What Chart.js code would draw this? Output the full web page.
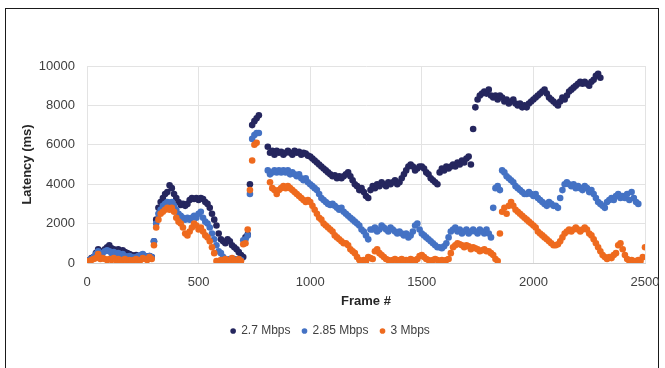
<!DOCTYPE html>
<html><head><meta charset="utf-8">
<script src="https://cdn.jsdelivr.net/npm/chart.js@4.4.1/dist/chart.umd.min.js"></script>
<style>
html,body{margin:0;padding:0;background:#fff;}
#wrap{position:relative;width:665px;height:368px;overflow:hidden;}
#frame{position:absolute;left:5px;top:8px;width:654px;height:400px;border:1.5px solid #1a1a1a;box-sizing:border-box;}
canvas{position:absolute;left:0;top:0;}
</style></head><body>
<div id="wrap"><div id="frame"></div><canvas id="c" width="665" height="368"></canvas></div>
<script>
// Frame numbers (sampled every 10 frames)
const FRAMES = [
0,10,20,30,40,50,60,70,80,90,
100,110,120,130,140,150,160,170,180,190,
200,210,220,230,240,250,260,270,280,290,
300,310,320,330,340,350,360,370,380,390,
400,410,420,430,440,450,460,470,480,490,
500,510,520,530,540,550,560,570,580,590,
600,610,620,630,640,650,660,670,680,690,
700,710,720,730,740,750,760,770,780,790,
800,810,820,830,840,850,860,870,880,890,
900,910,920,930,940,950,960,970,980,990,
1000,1010,1020,1030,1040,1050,1060,1070,1080,1090,
1100,1110,1120,1130,1140,1150,1160,1170,1180,1190,
1200,1210,1220,1230,1240,1250,1260,1270,1280,1290,
1300,1310,1320,1330,1340,1350,1360,1370,1380,1390,
1400,1410,1420,1430,1440,1450,1460,1470,1480,1490,
1500,1510,1520,1530,1540,1550,1560,1570,1580,1590,
1600,1610,1620,1630,1640,1650,1660,1670,1680,1690,
1700,1710,1720,1730,1740,1750,1760,1770,1780,1790,
1800,1810,1820,1830,1840,1850,1860,1870,1880,1890,
1900,1910,1920,1930,1940,1950,1960,1970,1980,1990,
2000,2010,2020,2030,2040,2050,2060,2070,2080,2090,
2100,2110,2120,2130,2140,2150,2160,2170,2180,2190,
2200,2210,2220,2230,2240,2250,2260,2270,2280,2290,
2300,2310,2320,2330,2340,2350,2360,2370,2380,2390,
2400,2410,2420,2430,2440,2450,2460,2470,2480,2490,
2500];

const N = null;
// Latency (ms) – 2.7 Mbps
const LAT_27 = [
100,150,250,300,500,700,550,600,700,800,
900,750,700,650,700,600,650,550,500,450,
400,350,400,300,350,300,350,300,350,300,
1100,2200,2800,3100,3300,3500,3600,3950,3800,3500,
3300,3100,2950,3000,2900,3000,3200,3300,3250,3300,
3200,3300,3250,3100,3000,2800,2500,2200,1900,1500,
1200,1100,1000,1200,1100,900,800,700,550,400,
300,1300,1450,4000,7000,7200,7350,7500,N,N,
N,5900,5600,5700,5500,5700,5600,5650,5500,5600,
5700,5600,5500,5700,5600,5650,5500,5600,5550,5450,
5400,5300,5200,5100,5000,4900,4800,4700,4600,4500,
4400,4450,4300,4400,4300,4400,4500,4600,4400,4200,
4000,3900,3700,3800,3600,3400,3300,3700,3900,3800,
4000,3900,4100,4000,3900,4100,4000,4100,4200,4000,
4100,4300,4500,4700,4900,5000,4900,4700,4800,4900,
4900,4800,4600,4500,4300,4200,4100,4000,4600,4800,
4700,4900,4800,4900,5000,4900,5100,5000,5200,5100,
5300,5400,5000,6800,7900,8300,8500,8600,8700,8600,
8800,8500,8400,8500,8300,8500,8400,8200,8300,8100,
8200,8300,8100,8000,8100,7900,8000,7900,8100,8200,
8300,8400,8500,8600,8700,8800,8600,8400,8300,8200,
8100,8000,8200,8400,8300,8500,8700,8800,8900,9000,
9100,9200,9100,9200,9100,9000,9200,9300,9500,9600,
9400,N,N,N,N,N,N,N,N,N,
N,N,N,N,N,N,N,N,N,N,
N];

// Latency (ms) – 2.85 Mbps
const LAT_285 = [
100,150,200,300,450,600,450,500,600,650,
600,500,550,450,500,400,450,350,300,350,
300,250,300,350,400,450,350,300,350,300,
1100,2000,2500,2700,2900,3000,3100,3050,3100,2900,
2700,2500,2400,2300,2200,2300,2200,2300,2400,2300,
2500,2600,2300,2100,2000,1800,1500,1200,900,600,
500,300,200,150,200,150,200,150,200,150,
1150,1200,1400,3500,6300,6500,6600,6600,N,N,
N,4700,4500,4600,4700,4600,4700,4600,4700,4600,
4700,4500,4600,4500,4400,4500,4300,4200,4300,4100,
4000,3900,3800,3700,3500,3300,3200,3100,3000,2950,
3000,2900,2800,2700,2800,2600,2500,2400,2300,2200,
2100,2000,1900,1700,1600,1400,1200,1700,1700,1800,
1600,1700,1900,1800,1700,1600,1800,1700,1600,1500,
1600,1500,1400,1500,1300,1400,1600,1900,2000,1700,
1500,1400,1300,1200,1100,1000,900,800,800,750,
850,1000,1300,1600,1700,1800,1600,1700,1500,1600,
1700,1500,1600,1700,1600,1500,1700,1600,1500,1700,
1500,1300,2800,3800,3900,3700,4700,4600,4400,4300,
4200,4100,3900,3800,3700,3600,3500,3500,3600,3500,
3400,3500,3300,3200,3100,3000,2900,3100,3000,2900,
2900,2800,3300,3700,4000,4100,4000,3900,4000,3800,
3900,3800,3700,3900,3800,3600,3700,3500,3300,3100,
3000,2900,2800,3100,3200,3300,3200,3400,3500,3300,
3400,3300,3500,3200,3600,3300,3100,3000,N,N,
N];

// Latency (ms) – 3 Mbps
const LAT_3 = [
100,100,150,200,250,450,200,250,200,150,
200,150,250,150,200,100,150,200,100,150,
100,150,200,100,150,250,200,150,300,200,
900,1800,2200,2500,2600,2700,2800,2700,2800,2600,
2300,2100,2000,1800,1500,1400,1600,1800,2000,1900,
1700,1800,1600,1400,1300,1100,800,500,100,100,
150,100,200,100,150,250,100,150,200,100,
950,1000,1700,3700,5200,6000,6100,N,N,N,
N,N,4100,3800,3700,3500,3700,3800,3900,3800,
3900,3800,3700,3600,3500,3400,3300,3200,3100,3200,
3100,2900,2700,2500,2300,2200,2000,1900,1800,1700,
1600,1400,1300,1200,1100,1000,1000,900,700,600,
500,300,150,100,150,100,300,250,200,600,
700,500,400,300,200,150,100,150,200,100,
150,200,100,150,100,200,150,100,200,350,
400,300,200,150,100,150,200,150,100,150,
100,150,200,500,800,900,1000,950,900,800,
900,850,700,800,750,700,600,650,700,600,
600,500,400,200,100,1500,2600,2800,2500,2900,
3100,2900,2700,2600,2500,2400,2300,2200,2100,2000,
1900,1800,1600,1500,1400,1300,1200,1100,1000,900,
900,950,1100,1300,1500,1600,1700,1600,1700,1800,
1700,1600,1700,1800,1700,1500,1400,1200,1000,800,
600,400,300,200,300,250,400,500,900,1000,
700,400,200,100,150,100,100,150,100,300,
800];

const SERIES_NAMES = ['2.7 Mbps', '2.85 Mbps', '3 Mbps'];
const X_TICKS = [0, 500, 1000, 1500, 2000, 2500];
const Y_TICKS = [0, 2000, 4000, 6000, 8000, 10000];

const COLORS = ['#25265E', '#4472C4', '#EE6A1E'];

function pts(vals) {
  const out = [];
  for (let i = 0; i < FRAMES.length; i++) {
    if (vals[i] !== null && vals[i] !== undefined) out.push({x: FRAMES[i], y: vals[i]});
  }
  return out;
}

const seriesVals = [LAT_27, LAT_285, LAT_3];
// draw order: orange on top, then blue, then navy (dataset 0 is drawn on top)
const datasets = [2, 1, 0].map(k => ({
  label: SERIES_NAMES[k],
  data: pts(seriesVals[k]),
  backgroundColor: COLORS[k],
  borderColor: COLORS[k],
  pointRadius: 3.3,
  pointBorderWidth: 0,
  pointHoverRadius: 3.3,
  showLine: false
}));

const FONT = "'Liberation Sans', Arial, sans-serif";

new Chart(document.getElementById('c'), {
  type: 'scatter',
  data: { datasets },
  options: {
    responsive: false,
    animation: false,
    devicePixelRatio: 1,
    layout: { padding: { left: 16, right: 20, top: 66, bottom: 21 } },
    plugins: {
      tooltip: { enabled: false },
      legend: {
        position: 'bottom',
        labels: {
          usePointStyle: true,
          pointStyle: 'circle',
          boxWidth: 4,
          boxHeight: 4,
          padding: 12,
          color: '#404040',
          font: { family: FONT, size: 12 },
          sort: (a, b) => b.datasetIndex - a.datasetIndex
        }
      }
    },
    scales: {
      x: {
        type: 'linear',
        min: 0, max: 2500,
        afterBuildTicks: s => { s.ticks = X_TICKS.map(v => ({value: v})); },
        afterFit: s => { s.height = 50; s.paddingRight = 0; s.paddingLeft = 0; },
        grid: { color: '#e3e3e3', drawTicks: false, lineWidth: 1 },
        border: { color: '#d0d0d0' },
        ticks: { color: '#404040', font: { family: FONT, size: 13 }, padding: 12, maxRotation: 0, callback: v => String(v) },
        title: { display: true, text: 'Frame #', color: '#262626', font: { family: FONT, size: 13, weight: 'bold' }, padding: { top: 4, bottom: 4 } }
      },
      y: {
        type: 'linear',
        min: 0, max: 10000,
        afterBuildTicks: s => { s.ticks = Y_TICKS.map(v => ({value: v})); },
        afterFit: s => { s.width = 71; },
        grid: { color: '#e3e3e3', drawTicks: false, lineWidth: 1 },
        border: { color: '#e3e3e3' },
        ticks: { color: '#404040', font: { family: FONT, size: 13 }, padding: 12, callback: v => String(v) },
        title: { display: true, text: 'Latency (ms)', color: '#262626', font: { family: FONT, size: 13, weight: 'bold' }, padding: { top: 4, bottom: 4 } }
      }
    }
  }
});
</script>
</body></html>
